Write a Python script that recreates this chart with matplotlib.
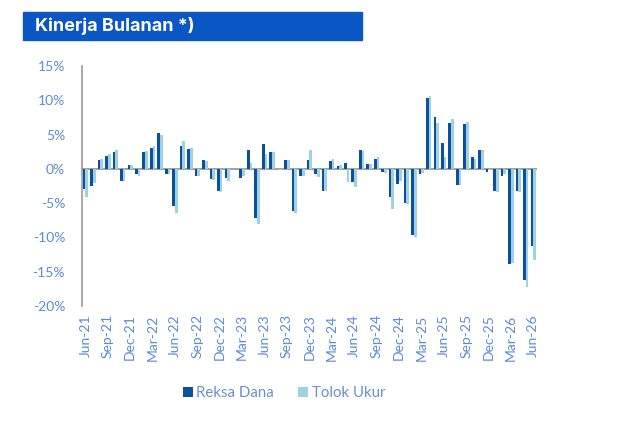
import matplotlib
matplotlib.use("Agg")
import matplotlib.pyplot as plt
import numpy as np
from matplotlib.patches import Rectangle

# months Jun-21 .. Jun-26
months = ["Jun", "Jul", "Aug", "Sep", "Oct", "Nov", "Dec", "Jan", "Feb", "Mar", "Apr", "May"]
labels = []
for k in range(61):
    m = months[k % 12]
    yr = 21 + (k + 5) // 12
    labels.append(f"{m}-{yr}")

reksa_dana = [-3.0, -2.5, 1.3, 1.9, 2.5, -1.8, 0.5, -0.7, 2.4, 3.1, 5.2, -0.7,
              -5.4, 3.4, 2.9, -1.1, 1.3, -1.5, -3.3, -1.4, 0.0, -1.3, 2.7, -7.1,
              3.6, 2.4, 0.0, 1.3, -6.2, -1.1, 1.3, -0.8, -3.3, 1.1, 0.4, 0.8,
              -1.9, 2.7, 0.7, 1.5, -0.4, -4.1, -2.2, -5.0, -9.6, -0.8, 10.4, 7.5,
              3.7, 6.7, -2.4, 6.6, 1.8, 2.8, -0.5, -3.3, -1.0, -13.9, -3.3, -16.2,
              -11.2]
tolok_ukur = [-4.1, -2.1, 1.4, 2.1, 2.7, -1.7, 0.6, -1.0, 2.6, 3.3, 4.9, -0.8,
              -6.5, 4.0, 3.0, -1.0, 1.1, -1.6, -3.4, -1.7, 0.0, -1.1, 0.9, -8.1,
              2.1, 2.4, -0.2, 1.3, -6.4, -1.1, 2.7, -1.2, -3.3, 1.4, 0.5, -1.9,
              -2.6, 2.6, 0.7, 1.8, -0.6, -5.8, -1.7, -5.1, -9.9, -0.6, 10.6, 6.7,
              1.7, 7.2, -2.4, 6.8, 1.5, 2.8, -0.1, -3.4, -0.7, -13.8, -3.4, -17.3,
              -13.3]

dark = "#0B4F9E"
light = "#9DD2E1"
txt = "#5B8AD6"

plt.rcParams['font.family'] = ['Lato', 'DejaVu Sans']

fig = plt.figure(figsize=(6.21, 4.23), dpi=100)
ax = fig.add_axes([81.7 / 621, 1 - 306 / 423, (537 - 81.7) / 621, (306 - 66) / 423])

x = np.arange(len(labels))
w = 0.36
ax.bar(x - w / 2, reksa_dana, w, color=dark, label="Reksa Dana")
ax.bar(x + w / 2, tolok_ukur, w, color=light, label="Tolok Ukur")

ax.set_xlim(-0.5, len(labels) - 0.5)
ax.set_ylim(-20, 15)
ax.set_yticks(np.arange(-20, 16, 5))
ax.set_yticklabels([f"{v}%" for v in range(-20, 16, 5)])
ax.set_xticks(x[::3])
ax.set_xticklabels(labels[::3], rotation=90)

ax.axhline(0, color="#999999", lw=1.3, zorder=0)
for s in ["top", "right", "bottom"]:
    ax.spines[s].set_visible(False)
ax.spines["left"].set_color("#999999")
ax.spines["left"].set_linewidth(1.2)
ax.tick_params(axis="both", length=0, colors=txt, labelsize=10)
ax.tick_params(axis="y", pad=12)
ax.tick_params(axis="x", pad=6)

fig.legend(loc="center", bbox_to_anchor=(284 / 621, 1 - 393 / 423), ncol=2,
           frameon=False, fontsize=10.8, labelcolor="#6A8FC9", handlelength=0.65,
           handleheight=0.65, handletextpad=0.25, columnspacing=1.6)

# title banner
fig.patches.append(Rectangle((23 / 621, 1 - 40 / 423), (362 - 23) / 621, 28 / 423,
                             transform=fig.transFigure, color="#0A57C3", zorder=0))
fig.text(35 / 621, 1 - 26 / 423, "Kinerja Bulanan *)", color="white",
         fontsize=13, fontweight="bold", va="center", ha="left",
         family=['Inter', 'DejaVu Sans'])

fig.savefig("out.png", dpi=100)
